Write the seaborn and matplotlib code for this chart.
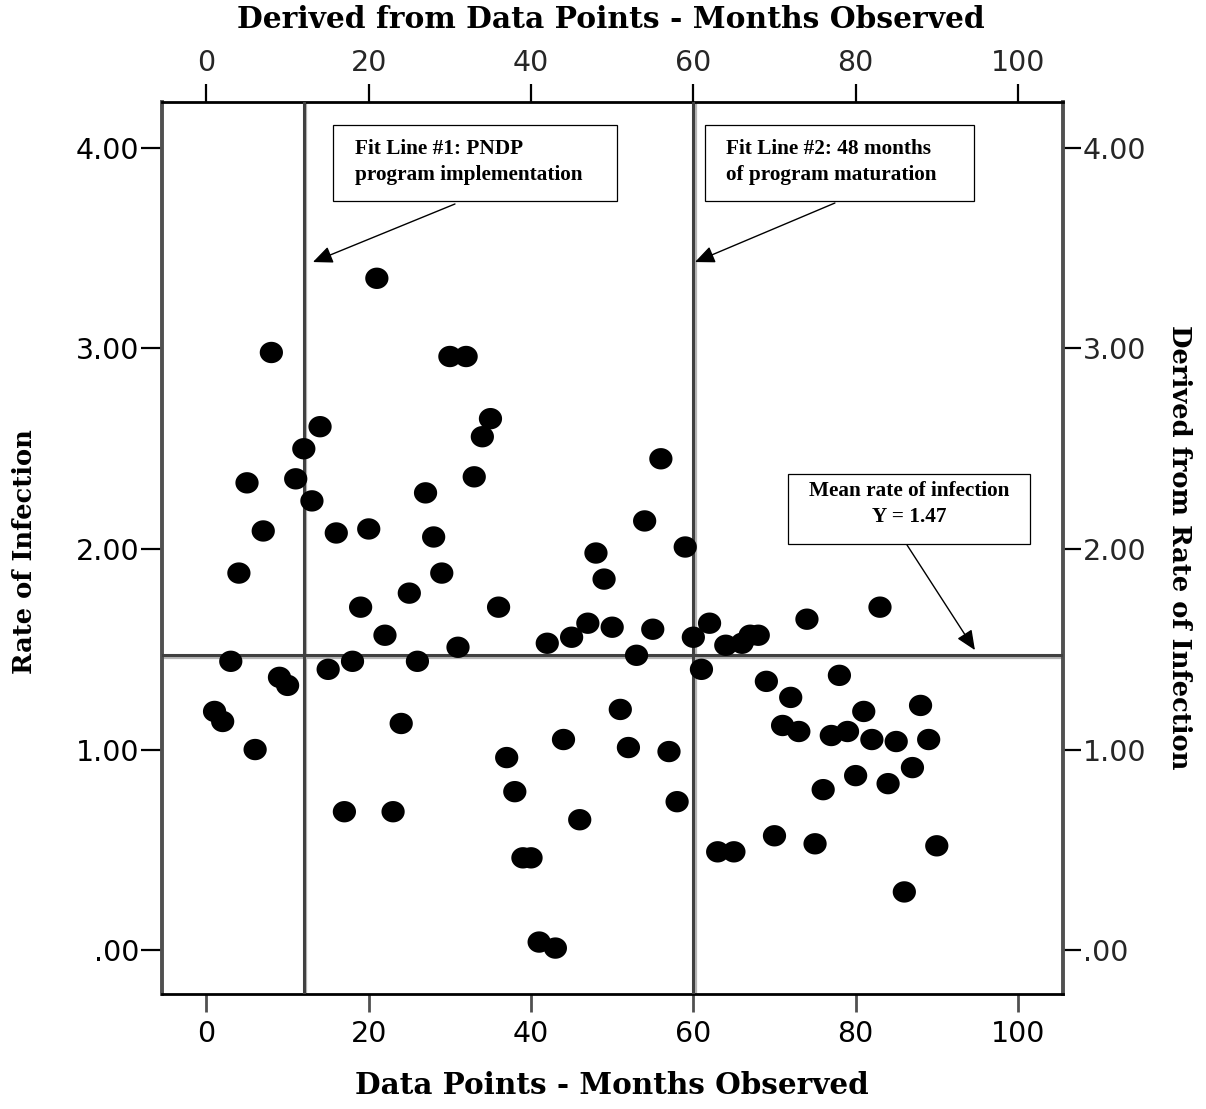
import numpy as np
import pandas as pd
import matplotlib
matplotlib.use("Agg")
import matplotlib.pyplot as plt
import matplotlib.transforms as mtransforms
from matplotlib.patches import Rectangle
from matplotlib.path import Path
import seaborn as sns

# ---------------- data ----------------
months = list(range(1, 91))
rate = [1.19, 1.14, 1.44, 1.88, 2.33, 1.00, 2.09, 2.98, 1.36, 1.32,
        2.35, 2.50, 2.24, 2.61, 1.40, 2.08, 0.69, 1.44, 1.71, 2.10,
        3.35, 1.57, 0.69, 1.13, 1.78, 1.44, 2.28, 2.06, 1.88, 2.96,
        1.51, 2.96, 2.36, 2.56, 2.65, 1.71, 0.96, 0.79, 0.46, 0.46,
        0.04, 1.53, 0.01, 1.05, 1.56, 0.65, 1.63, 1.98, 1.85, 1.61,
        1.20, 1.01, 1.47, 2.14, 1.60, 2.45, 0.99, 0.74, 2.01, 1.56,
        1.40, 1.63, 0.49, 1.52, 0.49, 1.53, 1.57, 1.57, 1.34, 0.57,
        1.12, 1.26, 1.09, 1.65, 0.53, 0.80, 1.07, 1.37, 1.09, 0.87,
        1.19, 1.05, 1.71, 0.83, 1.04, 0.29, 0.91, 1.22, 1.05, 0.52]
x_ticks = [0, 20, 40, 60, 80, 100]
x_tick_labels = ["0", "20", "40", "60", "80", "100"]
y_ticks = [0, 1, 2, 3, 4]
y_tick_labels = [".00", "1.00", "2.00", "3.00", "4.00"]
fit_line_1 = 12
fit_line_2 = 60
mean_rate = 1.47

xlabel_bottom = "Data Points - Months Observed"
xlabel_top = "Derived from Data Points - Months Observed"
ylabel_left = "Rate of Infection"
ylabel_right = "Derived from Rate of Infection"
note1 = "Fit Line #1: PNDP\nprogram implementation"
note2 = "Fit Line #2: 48 months\nof program maturation"
note3 = "Mean rate of infection\nY = 1.47"

# ---------------- style ----------------
sns.set_theme(style="white")
plt.rcParams["font.family"] = ["DejaVu Sans"]

fig = plt.figure(figsize=(12.06, 11.09), dpi=100)
ax = fig.add_axes([0.1343, 0.1037, 0.7471, 0.8043])

df = pd.DataFrame({"month": months, "rate": rate})

theta = np.linspace(0, 2 * np.pi, 61)
ell = Path(np.column_stack([np.cos(theta), 0.92 * np.sin(theta)]), closed=True)

sns.scatterplot(data=df, x="month", y="rate", marker=ell, s=280,
                color="black", edgecolor="none", linewidth=0,
                ax=ax, zorder=5, legend=False)

ax.set_xlim(-5.48, 105.55)
ax.set_ylim(-0.219, 4.229)

# reference lines with light shadow
def ref_line(func, val, dx, dy):
    shadow = func(val, color="#b5b5b5", lw=1.6, zorder=2)
    shadow.set_transform(shadow.get_transform() +
                         mtransforms.ScaledTranslation(dx, dy, fig.dpi_scale_trans))
    func(val, color="#404040", lw=2.2, zorder=3)

ref_line(ax.axvline, fit_line_1, 0.025, 0)
ref_line(ax.axvline, fit_line_2, 0.025, 0)
ref_line(ax.axhline, mean_rate, 0, -0.025)

# spines
for s in ["left", "right"]:
    ax.spines[s].set_color("#505050")
    ax.spines[s].set_linewidth(2.8)
for s in ["top", "bottom"]:
    ax.spines[s].set_color("black")
    ax.spines[s].set_linewidth(2.0)

fs_tick = 20.5
ax.set_xticks(x_ticks, x_tick_labels)
ax.set_yticks(y_ticks, y_tick_labels)
ax.tick_params(axis="x", bottom=True, direction="out", length=13, width=2.0,
               color="#505050", pad=6, labelsize=fs_tick, labelcolor="black")
ax.tick_params(axis="y", left=True, direction="out", length=15, width=1.6,
               color="black", pad=1.5, labelsize=fs_tick, labelcolor="black")
ax.set_xlabel("")
ax.set_ylabel("")

secx = ax.secondary_xaxis("top")
secx.set_xticks(x_ticks, x_tick_labels)
secx.tick_params(axis="x", top=True, labeltop=True, direction="out", length=13,
                 width=1.6, color="black", pad=5, labelsize=fs_tick)
for sp in secx.spines.values():
    sp.set_visible(False)

secy = ax.secondary_yaxis("right")
secy.set_yticks(y_ticks, y_tick_labels)
secy.tick_params(axis="y", right=True, labelright=True, direction="out", length=13,
                 width=1.6, color="black", pad=1.5, labelsize=fs_tick)
for sp in secy.spines.values():
    sp.set_visible(False)

# axis titles (fitted to the reference extents)
lab_kw = dict(family="DejaVu Serif", weight="bold", color="black",
              ha="center", va="center", fontsize=20)
t_top = fig.text(611 / 1206, 1 - 20 / 1109, xlabel_top, **lab_kw)
t_bot = fig.text(612 / 1206, 1 - 1085 / 1109, xlabel_bottom, **lab_kw)
t_left = fig.text(25 / 1206, 1 - 552 / 1109, ylabel_left, rotation=90, **lab_kw)
t_right = fig.text(1180 / 1206, 1 - 547 / 1109, ylabel_right, rotation=-90, **lab_kw)

fig.canvas.draw()
rend = fig.canvas.get_renderer()
for t, target, horiz in [(t_top, 748, True), (t_bot, 515, True),
                         (t_left, 245, False), (t_right, 445, False)]:
    bb = t.get_window_extent(renderer=rend)
    cur = bb.width if horiz else bb.height
    t.set_fontsize(t.get_fontsize() * target / cur)

# annotation boxes
note_kw = dict(family="Liberation Serif", weight="bold", fontsize=15.3,
               color="black", linespacing=1.45, transform=ax.transAxes, zorder=8)
for (x0, y0, w, h) in [(0.1898, 0.889, 0.3152, 0.0852),
                       (0.6027, 0.889, 0.2986, 0.0852),
                       (0.6948, 0.5045, 0.2686, 0.0785)]:
    ax.add_patch(Rectangle((x0, y0), w, h, transform=ax.transAxes,
                           facecolor="white", edgecolor="black", lw=0.9, zorder=7))

ax.text(0.2142, 0.9327, note1, ha="left", va="center", **note_kw)
ax.text(0.626, 0.9327, note2, ha="left", va="center", **note_kw)
ax.text(0.8291, 0.5493, note3, ha="center", va="center", **note_kw)

arrow_kw = dict(arrowstyle="-|>,head_length=0.8,head_width=0.35",
                mutation_scale=15, color="black", lw=1.0, shrinkA=0, shrinkB=0)
ax.annotate("", xy=(13.12, 3.431), xycoords="data",
            xytext=(0.3252, 0.8857), textcoords="axes fraction",
            arrowprops=arrow_kw, zorder=9)
ax.annotate("", xy=(60.2, 3.431), xycoords="data",
            xytext=(0.7469, 0.8868), textcoords="axes fraction",
            arrowprops=arrow_kw, zorder=9)
ax.annotate("", xy=(94.7, 1.496), xycoords="data",
            xytext=(0.8269, 0.5034), textcoords="axes fraction",
            arrowprops=arrow_kw, zorder=9)

fig.savefig("out.png", dpi=100)
